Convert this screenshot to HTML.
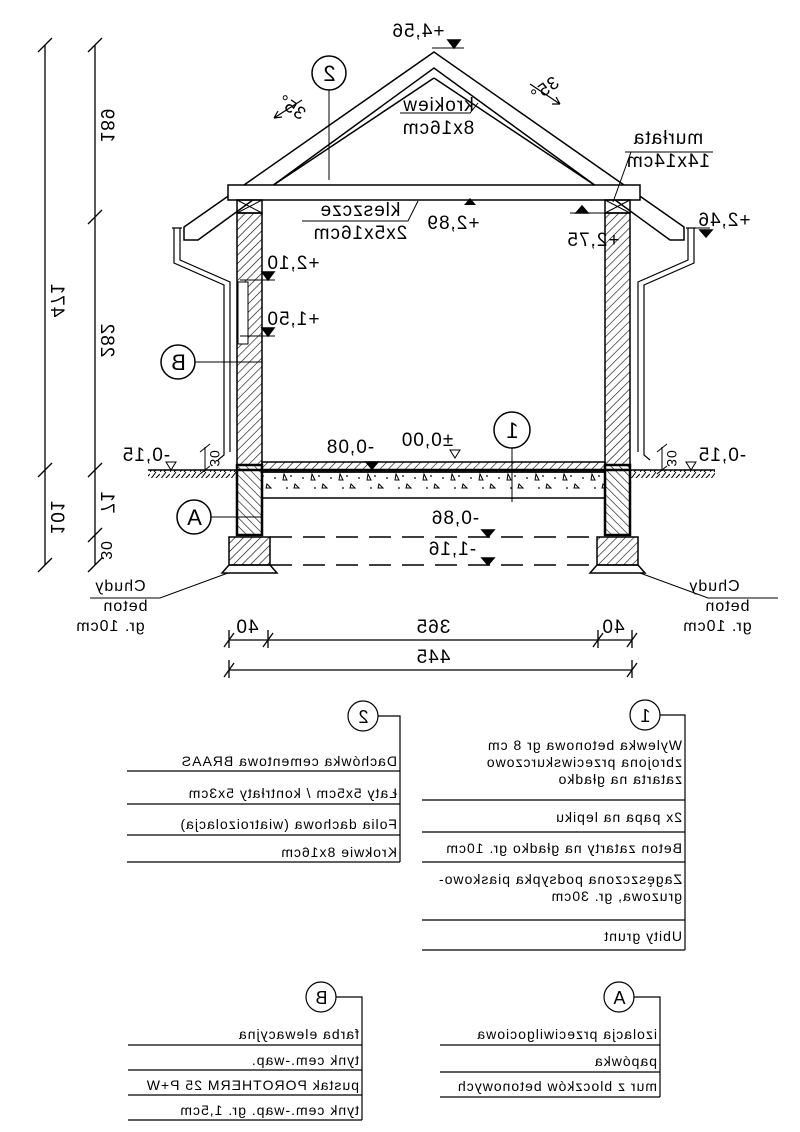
<!DOCTYPE html>
<html><head><meta charset="utf-8"><style>
html,body{margin:0;padding:0;background:#fff}
svg{display:block}
text{font-family:"Liberation Sans",sans-serif;fill:#000}
.t{font-size:14px;letter-spacing:1px}
.l{font-size:19px;letter-spacing:1px}
</style></head><body>
<svg width="800" height="1132" viewBox="0 0 800 1132" xmlns="http://www.w3.org/2000/svg">
<defs>
<pattern id="h1" width="6" height="6" patternUnits="userSpaceOnUse" patternTransform="rotate(45)"><line x1="0" y1="0" x2="0" y2="6" stroke="#000" stroke-width="1.2"/></pattern>
<pattern id="h2" width="6" height="6" patternUnits="userSpaceOnUse" patternTransform="rotate(-45)"><line x1="0" y1="0" x2="0" y2="6" stroke="#000" stroke-width="1.2"/></pattern>
<pattern id="gr" width="10" height="8" patternUnits="userSpaceOnUse"><path d="M0 8 L6 0 M4 8 L10 2" stroke="#000" stroke-width="1"/></pattern>
<pattern id="con" width="28" height="26" patternUnits="userSpaceOnUse"><path d="M4 6 l3 6 l-4 0z M15 16 l4 4 l-5 0z" fill="none" stroke="#000" stroke-width="1"/><circle cx="11" cy="8" r="0.9"/><circle cx="23" cy="10" r="0.9"/><circle cx="7" cy="20" r="0.9"/></pattern>
</defs>
<g stroke="#000" fill="none" stroke-width="1.5">
<polygon points="434,52 184,227 184,240 198,240 434,68 670,240 684,240 684,227" fill="#fff"/>
<line x1="434" y1="78" x2="272" y2="186"/>
<line x1="434" y1="78" x2="596" y2="186"/>
<rect x="228" y="185" width="412" height="15" fill="#fff"/>
<rect x="237" y="200" width="25" height="13"/><path d="M237 200 L262 213 M262 200 L237 213" stroke-width="1"/>
<rect x="605" y="200" width="25" height="13"/><path d="M605 200 L630 213 M630 200 L605 213" stroke-width="1"/>
<rect x="237" y="213" width="25" height="252" fill="url(#h1)"/>
<rect x="605" y="213" width="25" height="252" fill="url(#h1)"/>
<rect x="238" y="282" width="10" height="62" fill="#fff" stroke-width="1"/>
<rect x="237" y="465" width="25" height="70" fill="url(#h2)" stroke-width="2.5"/>
<rect x="605" y="465" width="25" height="70" fill="url(#h2)" stroke-width="2.5"/>
<rect x="229" y="537" width="41" height="28" fill="url(#h1)"/>
<rect x="597" y="537" width="41" height="28" fill="url(#h1)"/>
<polygon points="229,565 270,565 277,573 222,573"/>
<polygon points="597,565 638,565 645,573 590,573"/>
<rect x="262" y="462" width="343" height="10" fill="url(#h1)"/>
<line x1="237" y1="470" x2="630" y2="470" stroke-width="2.5"/>
<rect x="262" y="472" width="343" height="26" fill="url(#con)"/>
<line x1="270" y1="537" x2="597" y2="537" stroke-dasharray="22,11"/>
<line x1="270" y1="565" x2="597" y2="565" stroke-dasharray="22,11"/>
<rect x="148" y="470" width="89" height="8" fill="url(#gr)" stroke="none"/>
<line x1="148" y1="470" x2="237" y2="470"/>
<rect x="630" y="470" width="85" height="8" fill="url(#gr)" stroke="none"/>
<line x1="630" y1="470" x2="715" y2="470"/>
<path d="M172 228 h10 M174 228 v35 l50 22 v170 l-6 5 M180 228 v32 l50 22 v170" stroke-width="1.2"/>
<path d="M696 228 h-10 M694 228 v35 l-50 22 v170 l6 5 M688 228 v32 l-50 22 v170" stroke-width="1.2"/>
<circle cx="329" cy="73" r="17"/><line x1="329" y1="90" x2="329" y2="180" stroke-width="1"/>
<circle cx="178" cy="362" r="17"/><line x1="195" y1="362" x2="262" y2="362" stroke-width="1"/>
<circle cx="512" cy="430" r="18"/><line x1="512" y1="448" x2="512" y2="502" stroke-width="1"/>
<circle cx="194" cy="517" r="17"/><line x1="211" y1="517" x2="262" y2="517" stroke-width="1"/>
<path d="M400 113 h70 l8 -10" stroke-width="1"/>
<path d="M625 152 h88 M631 152 l-18 50" stroke-width="1"/>
<path d="M302 221 h106 l10 -20" stroke-width="1"/>
<path d="M228 573 l-68 25 h-70" stroke-width="1"/>
<path d="M640 573 l68 25 h70" stroke-width="1"/>
<path d="M432 48 h32" stroke-width="1"/><polygon points="448,40 460,40 454,48" fill="#000"/>
<polygon points="464,205 476,205 470,198" fill="#000" stroke="none"/>
<path d="M570 213 h35" stroke-width="1"/><polygon points="576,213 588,213 582,206" fill="#000"/>
<path d="M690 228 h20" stroke-width="1"/><polygon points="700,230 712,230 706,237" fill="#000"/>
<path d="M240 280 h35" stroke-width="1"/><polygon points="262,272 274,272 268,280" fill="#000"/>
<path d="M240 336 h35" stroke-width="1"/><polygon points="262,328 274,328 268,336" fill="#000"/>
<polygon points="366,462 378,462 372,469" fill="#000"/>
<polygon points="450,450 460,450 455,458" stroke-width="1"/>
<polygon points="482,530 494,530 488,537" fill="#000"/>
<polygon points="482,558 494,558 488,565" fill="#000"/>
<polygon points="166,462 176,462 171,470" stroke-width="1"/>
<polygon points="686,462 696,462 691,470" stroke-width="1"/>
<path d="M205 447 v24 M200 452 l10 -8 M200 474 l10 -8" stroke-width="1"/>
<path d="M662 447 v24 M657 452 l10 -8 M657 474 l10 -8" stroke-width="1"/>
<path d="M302 100 l-28 18 M274 118 l8 -1 M274 118 l4 -7" stroke-width="1.2"/>
<path d="M530 84 l30 20 M560 104 l-4 -7 M560 104 l-8 0" stroke-width="1.2"/>
<g stroke-width="1.3">
<line x1="229" y1="640" x2="632" y2="640"/><line x1="229" y1="670" x2="632" y2="670"/>
<path d="M224 647 l10 -14 M263 647 l10 -14 M593 647 l10 -14 M627 647 l10 -14 M224 677 l10 -14 M627 677 l10 -14 M229 630 v18 M268 630 v18 M598 630 v18 M632 630 v18 M229 660 v18 M632 660 v18"/>
<line x1="45" y1="45" x2="45" y2="565"/><line x1="95" y1="45" x2="95" y2="565"/>
<path d="M38 52 l14 -14 M38 477 l14 -14 M38 572 l14 -14 M88 52 l14 -14 M88 224 l14 -14 M88 477 l14 -14 M88 542 l14 -14 M88 572 l14 -14"/>
</g>
<g stroke-width="1.2">
<circle cx="363" cy="716" r="15"/><path d="M378 716 h22 v146"/>
<path d="M127 771 h273 M127 804 h273 M127 835 h273 M127 862 h273"/>
<circle cx="645" cy="715" r="15"/><path d="M660 715 h25 v235"/>
<path d="M422 800 h263 M422 832 h263 M422 862 h263 M422 920 h263 M422 950 h263"/>
<circle cx="321" cy="997" r="15"/><path d="M336 997 h26 v123"/>
<path d="M128 1045 h234 M128 1070 h234 M128 1095 h234 M128 1120 h234"/>
<circle cx="619" cy="997" r="15"/><path d="M634 997 h26 v100"/>
<path d="M440 1045 h220 M440 1072 h220 M440 1097 h220"/>
</g>
</g>
<g class="l" text-anchor="middle">
<text transform="translate(418,37) scale(-1,1)">+4,56</text>
<text transform="translate(438,111) scale(-1,1)">krokiew</text>
<text transform="translate(438,134) scale(-1,1)">8x16cm</text>
<text transform="translate(668,144) scale(-1,1)">murłata</text>
<text transform="translate(668,167) scale(-1,1)">14x14cm</text>
<text transform="translate(360,216) scale(-1,1)">kleszcze</text>
<text transform="translate(360,239) scale(-1,1)">2x5x16cm</text>
<text transform="translate(453,229) scale(-1,1)">+2,89</text>
<text transform="translate(593,246) scale(-1,1)">+2,75</text>
<text transform="translate(724,226) scale(-1,1)">+2,46</text>
<text transform="translate(293,269) scale(-1,1)">+2,10</text>
<text transform="translate(293,325) scale(-1,1)">+1,50</text>
<text transform="translate(146,461) scale(-1,1)">-0,15</text>
<text transform="translate(722,461) scale(-1,1)">-0,15</text>
<text transform="translate(350,453) scale(-1,1)">-0,08</text>
<text transform="translate(427,446) scale(-1,1)">±0,00</text>
<text transform="translate(455,524) scale(-1,1)">-0,86</text>
<text transform="translate(452,555) scale(-1,1)">-1,16</text>
<text transform="translate(247,633) scale(-1,1)">40</text>
<text transform="translate(433,633) scale(-1,1)">365</text>
<text transform="translate(613,633) scale(-1,1)">40</text>
<text transform="translate(433,663) scale(-1,1)">445</text>
<text transform="translate(329,81) scale(-1,1)" font-size="22">2</text>
<text transform="translate(178,370) scale(-1,1)" font-size="22">B</text>
<text transform="translate(512,438) scale(-1,1)" font-size="22">1</text>
<text transform="translate(194,525) scale(-1,1)" font-size="22">A</text>
<text transform="translate(288,112) scale(-1,1) rotate(-35)" font-size="18">35°</text>
<text transform="translate(548,94) scale(-1,1) rotate(35)" font-size="18">35°</text>
<text transform="translate(101,125) scale(-1,1) rotate(-90)">189</text>
<text transform="translate(101,340) scale(-1,1) rotate(-90)">282</text>
<text transform="translate(51,300) scale(-1,1) rotate(-90)">471</text>
<text transform="translate(51,517) scale(-1,1) rotate(-90)">101</text>
<text transform="translate(101,502) scale(-1,1) rotate(-90)">71</text>
<text transform="translate(101,550) scale(-1,1) rotate(-90)" font-size="16">30</text>
<text transform="translate(210,458) scale(-1,1) rotate(-90)" font-size="14">30</text>
<text transform="translate(667,458) scale(-1,1) rotate(-90)" font-size="14">30</text>
<text transform="translate(120,591) scale(-1,1)" font-size="16">Chudy</text>
<text transform="translate(125,611) scale(-1,1)" font-size="16">beton</text>
<text transform="translate(110,631) scale(-1,1)" font-size="16">gr. 10cm</text>
<text transform="translate(714,591) scale(-1,1)" font-size="16">Chudy</text>
<text transform="translate(727,611) scale(-1,1)" font-size="16">beton</text>
<text transform="translate(717,631) scale(-1,1)" font-size="16">gr. 10cm</text>
<text transform="translate(363,723) scale(-1,1)" font-size="18">2</text>
<text transform="translate(645,722) scale(-1,1)" font-size="18">1</text>
<text transform="translate(321,1004) scale(-1,1)" font-size="18">B</text>
<text transform="translate(619,1004) scale(-1,1)" font-size="18">A</text>
</g>
<g class="t" text-anchor="start">
<text transform="translate(397,766) scale(-1,1)">Dachówka cementowa BRAAS</text>
<text transform="translate(397,798) scale(-1,1)">Łaty 5x5cm / kontrłaty 5x3cm</text>
<text transform="translate(397,829) scale(-1,1)">Folia dachowa (wiatroizolacja)</text>
<text transform="translate(397,857) scale(-1,1)">Krokwie 8x16cm</text>
<text transform="translate(682,750) scale(-1,1)">Wylewka betonowa gr 8 cm</text>
<text transform="translate(682,767) scale(-1,1)">zbrojona przeciwskurczowo</text>
<text transform="translate(682,784) scale(-1,1)">zatarta na gładko</text>
<text transform="translate(682,822) scale(-1,1)">2x papa na lepiku</text>
<text transform="translate(682,853) scale(-1,1)">Beton zatarty na gładko gr. 10cm</text>
<text transform="translate(682,884) scale(-1,1)">Zagęszczona podsypka piaskowo-</text>
<text transform="translate(682,901) scale(-1,1)">gruzowa, gr. 30cm</text>
<text transform="translate(682,941) scale(-1,1)">Ubity grunt</text>
<text transform="translate(359,1039) scale(-1,1)">farba elewacyjna</text>
<text transform="translate(359,1065) scale(-1,1)">tynk cem.-wap.</text>
<text transform="translate(359,1090) scale(-1,1)">pustak POROTHERM 25 P+W</text>
<text transform="translate(359,1115) scale(-1,1)">tynk cem.-wap. gr. 1,5cm</text>
<text transform="translate(657,1039) scale(-1,1)">izolacja przeciwilgociowa</text>
<text transform="translate(657,1066) scale(-1,1)">papówka</text>
<text transform="translate(657,1091) scale(-1,1)">mur z bloczków betonowych</text>
</g>
</svg>
</body></html>
